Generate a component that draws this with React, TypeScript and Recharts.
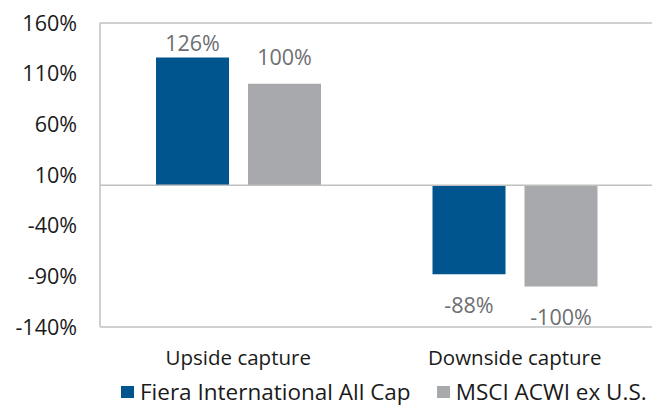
import React from 'react';
import { BarChart, Bar, XAxis, YAxis, ReferenceLine, LabelList } from 'recharts';

const categories = ['Upside capture', 'Downside capture'];
const fieraValues = [126, -88];
const msciValues = [100, -100];
const yTicks = [-140, -90, -40, 10, 60, 110, 160];

const seriesNames = ['Fiera International All Cap', 'MSCI ACWI ex U.S.'];
const BLUE = '#00558f';
const GRAY = '#a7a9ac';
const BORDER = '#c0c0c0';
const FONT = '"Open Sans", sans-serif';

const data = categories.map((name, i) => ({
  name,
  fiera: fieraValues[i],
  msci: msciValues[i],
}));

// labels sit at slightly different distances from the bar ends in the source
const makeLabel = (posGap: number, negGap: number) => (props: any) => {
  const { x, y, width, height, value } = props;
  const top = Math.min(y, y + height);
  const bottom = Math.max(y, y + height);
  const cx = x + width / 2;
  const ty = value >= 0 ? top - posGap : bottom + negGap + 15.5;
  return (
    <text x={cx} y={ty} textAnchor="middle" fill="#6d6e71" fontSize={21.5} fontFamily={FONT}>
      {`${value}%`}
    </text>
  );
};

const ChartLegend = () => {
  const colors = [BLUE, GRAY];
  return (
    <div
      style={{
        position: 'absolute',
        left: 121,
        top: 381,
        display: 'flex',
        fontFamily: FONT,
        fontSize: 22.5,
        color: '#1a1a1a',
        lineHeight: '22px',
        whiteSpace: 'nowrap',
      }}
    >
      {seriesNames.map((n, i) => (
        <div key={n} style={{ display: 'flex', alignItems: 'center', marginRight: i === 0 ? 26 : 0 }}>
          <span style={{ width: 13, height: 12, background: colors[i], marginRight: 6, display: 'inline-block' }} />
          <span>{n}</span>
        </div>
      ))}
    </div>
  );
};

export default function App() {
  return (
    <div style={{ position: 'absolute', left: 0, top: 0, width: 652, height: 408, overflow: 'hidden', background: '#fff' }}>
      <BarChart
        width={660}
        height={408}
        data={data}
        margin={{ top: 23, right: 7, left: 0, bottom: 51 }}
        barSize={73}
        barGap={19}
      >
        <XAxis
          dataKey="name"
          height={30}
          axisLine={{ stroke: BORDER, strokeWidth: 1.5 }}
          tickLine={false}
          tickSize={0}
          tickMargin={23}
          tick={{ fill: '#1a1a1a', fontSize: 20.5, fontFamily: FONT }}
        />
        <YAxis
          width={100}
          domain={[-140, 160]}
          ticks={yTicks}
          interval={0}
          tickFormatter={(v: number) => `${v}%`}
          axisLine={{ stroke: BORDER, strokeWidth: 1.5 }}
          tickLine={false}
          tickSize={0}
          tickMargin={23}
          tick={{ fill: '#1a1a1a', fontSize: 21.5, fontFamily: FONT }}
        />
        <ReferenceLine y={160} stroke={BORDER} strokeWidth={1.5} />
        <ReferenceLine y={0} stroke={BORDER} strokeWidth={1.5} />
        <Bar dataKey="fiera" name={seriesNames[0]} fill={BLUE} isAnimationActive={false}>
          <LabelList dataKey="fiera" content={makeLabel(6, 23)} />
        </Bar>
        <Bar dataKey="msci" name={seriesNames[1]} fill={GRAY} isAnimationActive={false}>
          <LabelList dataKey="msci" content={makeLabel(19, 23)} />
        </Bar>
      </BarChart>
      <ChartLegend />
    </div>
  );
}
